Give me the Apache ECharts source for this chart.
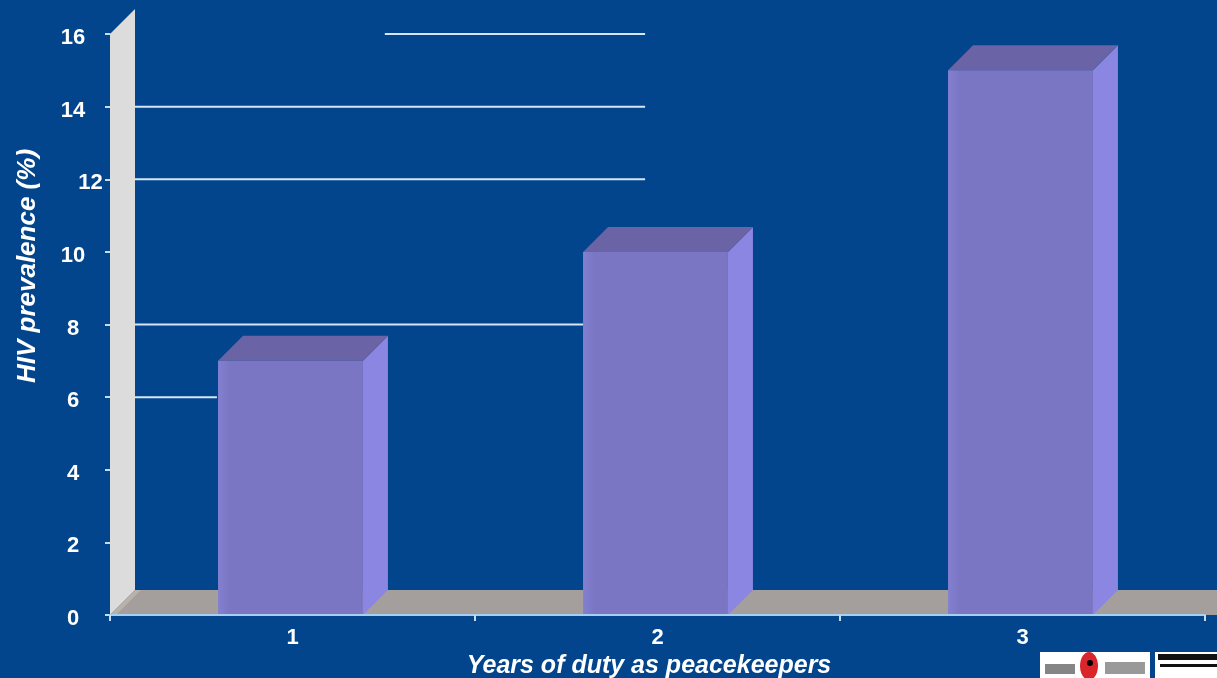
<!DOCTYPE html>
<html>
<head>
<meta charset="utf-8">
<style>
html,body{margin:0;padding:0;background:#02458c;}
#chart{width:1217px;height:678px;}
</style>
<script src="https://cdn.jsdelivr.net/npm/echarts@6/dist/echarts.min.js"></script>
</head>
<body>
<div id="chart"></div>
<script>
// ---- data ----
var categories = ['1', '2', '3'];
var prevalence = [7, 10, 15];
var yTicks = [0, 2, 4, 6, 8, 10, 12, 14, 16];
var xTitle = 'Years of duty as peacekeepers';
var yTitle = 'HIV prevalence (%)';
// partial white gridlines (value, start and end in category units along the x range 0..3)
var gridValues = [6, 8, 12, 14, 16];
var gridStart = [0.068, 0.068, 0.068, 0.068, 0.753];
var gridEnd = [0.293, 1.296, 1.466, 1.466, 1.466];

// ---- styles ----
var DEPTH = 25;
var BAR_FRACTION = 0.397;
var BG = '#02458c';
var FONT = 'Liberation Sans, Arial, sans-serif';

var chart = echarts.init(document.getElementById('chart'));

var gridData = gridValues.map(function (v, i) { return [gridStart[i], gridEnd[i], v]; });

chart.setOption({
  backgroundColor: BG,
  animation: false,
  grid: { left: 110, right: 12, top: 34, bottom: 63, containLabel: false, outerBoundsMode: 'none' },
  xAxis: [{
    type: 'category',
    data: categories,
    boundaryGap: true,
    name: xTitle,
    nameLocation: 'middle',
    nameGap: 37,
    nameTextStyle: { color: '#ffffff', fontSize: 25, fontWeight: 'bold', fontStyle: 'italic', fontFamily: FONT, padding: [0, 17, 0, 0] },
    axisLine: { show: true, lineStyle: { color: '#a9cdee', width: 2 } },
    axisTick: { show: true, alignWithLabel: false, length: 6, lineStyle: { color: '#c8dcf0', width: 2 } },
    axisLabel: { color: '#ffffff', fontSize: 22, fontWeight: 'bold', margin: 12, fontFamily: FONT },
    splitLine: { show: false },
    z: 5
  }, {
    type: 'value', min: 0, max: 3, show: false
  }],
  yAxis: {
    type: 'value',
    min: yTicks[0],
    max: yTicks[yTicks.length - 1],
    interval: yTicks[1] - yTicks[0],
    axisLine: { show: true, lineStyle: { color: '#d8dde4', width: 1 } },
    axisTick: { show: true, length: 5, lineStyle: { color: '#c8dcf0', width: 2 } },
    axisLabel: {
      color: '#ffffff', fontSize: 22, fontWeight: 'bold', margin: 37, align: 'center',
      fontFamily: FONT, padding: [8, 0, 0, 0],
      formatter: function (v) { return v === 12 ? '{s|' + v + '}' : String(v); },
      rich: { s: { color: '#ffffff', fontSize: 22, fontWeight: 'bold', fontFamily: FONT, padding: [0, 0, 0, 35] } }
    },
    splitLine: { show: false }
  },
  series: [
    {
      // floor
      type: 'custom',
      xAxisIndex: 1,
      data: [[0, 3]],
      z: 1,
      silent: true,
      renderItem: function (params, api) {
        var a = api.coord([api.value(0), 0]);
        var b = api.coord([api.value(1), 0]);
        return {
          type: 'polygon',
          shape: { points: [[a[0], a[1]], [a[0] + DEPTH, a[1] - DEPTH], [b[0] + DEPTH * 2, b[1] - DEPTH], [b[0] + DEPTH, b[1]]] },
          style: { fill: '#a49f9c' }
        };
      }
    },
    {
      // left wall
      type: 'custom',
      xAxisIndex: 1,
      data: [[0, yTicks[yTicks.length - 1]]],
      z: 2,
      silent: true,
      renderItem: function (params, api) {
        var a = api.coord([0, 0]);
        var t = api.coord([0, api.value(1)]);
        return {
          type: 'group',
          children: [{
            type: 'polygon',
            shape: { points: [[a[0], a[1]], [t[0], t[1]], [t[0] + DEPTH, t[1] - DEPTH], [a[0] + DEPTH, a[1] - DEPTH]] },
            style: { fill: '#dcdcdc' }
          }, {
            type: 'polygon',
            shape: { points: [[a[0], a[1]], [a[0] + DEPTH, a[1] - DEPTH], [a[0] + DEPTH + 6, a[1] - DEPTH], [a[0] + 6, a[1]]] },
            style: { fill: '#b9b2aa' }
          }]
        };
      }
    },
    {
      // gridlines
      type: 'custom',
      xAxisIndex: 1,
      data: gridData,
      z: 3,
      silent: true,
      renderItem: function (params, api) {
        var p1 = api.coord([api.value(0), api.value(2)]);
        var p2 = api.coord([api.value(1), api.value(2)]);
        return {
          type: 'line',
          shape: { x1: p1[0], y1: p1[1], x2: p2[0], y2: p2[1] },
          style: { stroke: '#d6e6f6', lineWidth: 2 }
        };
      }
    },
    {
      // 3D bars
      type: 'custom',
      xAxisIndex: 0,
      data: prevalence.map(function (v, i) { return [i, v]; }),
      z: 4,
      renderItem: function (params, api) {
        var top = api.coord([api.value(0), api.value(1)]);
        var base = api.coord([api.value(0), 0]);
        var w = api.size([1, 0])[0] * BAR_FRACTION;
        var xl = top[0] - w / 2 - 2, xr = top[0] + w / 2 - 2;
        var yt = top[1], yb = base[1];
        return {
          type: 'group',
          children: [{
            type: 'polygon',
            shape: { points: [[xr, yt], [xr + DEPTH, yt - DEPTH], [xr + DEPTH, yb - DEPTH], [xr, yb]] },
            style: { fill: '#8a86e2' }
          }, {
            type: 'polygon',
            shape: { points: [[xl, yt], [xl + DEPTH, yt - DEPTH], [xr + DEPTH, yt - DEPTH], [xr, yt]] },
            style: { fill: '#6a63a6' }
          }, {
            type: 'rect',
            shape: { x: xl, y: yt, width: w, height: yb - yt },
            style: {
              fill: new echarts.graphic.LinearGradient(0, 0, 1, 0, [
                { offset: 0, color: '#8380d0' },
                { offset: 0.08, color: '#7a76c4' },
                { offset: 1, color: '#7a76c4' }
              ])
            }
          }]
        };
      }
    }
  ],
  graphic: [
    {
      type: 'text', x: 28, y: 266, rotation: Math.PI / 2, z: 10,
      style: { text: yTitle, fill: '#ffffff', font: 'italic bold 26px ' + FONT, textAlign: 'center', textVerticalAlign: 'middle' }
    },
    { type: 'rect', left: 1040, top: 652, shape: { width: 110, height: 26 }, style: { fill: '#ffffff' }, z: 10 },
    { type: 'rect', left: 1155, top: 652, shape: { width: 62, height: 26 }, style: { fill: '#ffffff' }, z: 10 },
    { type: 'ellipse', left: 1080, top: 652, shape: { cx: 12, cy: 14, rx: 9, ry: 14 }, style: { fill: '#d8262a' }, z: 11 },
    { type: 'circle', left: 1087, top: 660, shape: { cx: 4, cy: 4, r: 3 }, style: { fill: '#000000' }, z: 12 },
    { type: 'rect', left: 1045, top: 664, shape: { width: 30, height: 10 }, style: { fill: '#333333', opacity: 0.6 }, z: 11 },
    { type: 'rect', left: 1105, top: 662, shape: { width: 40, height: 12 }, style: { fill: '#333333', opacity: 0.5 }, z: 11 },
    { type: 'rect', left: 1158, top: 654, shape: { width: 59, height: 6 }, style: { fill: '#111111' }, z: 11 },
    { type: 'rect', left: 1160, top: 664, shape: { width: 57, height: 3 }, style: { fill: '#111111' }, z: 11 }
  ]
});
</script>
</body>
</html>
